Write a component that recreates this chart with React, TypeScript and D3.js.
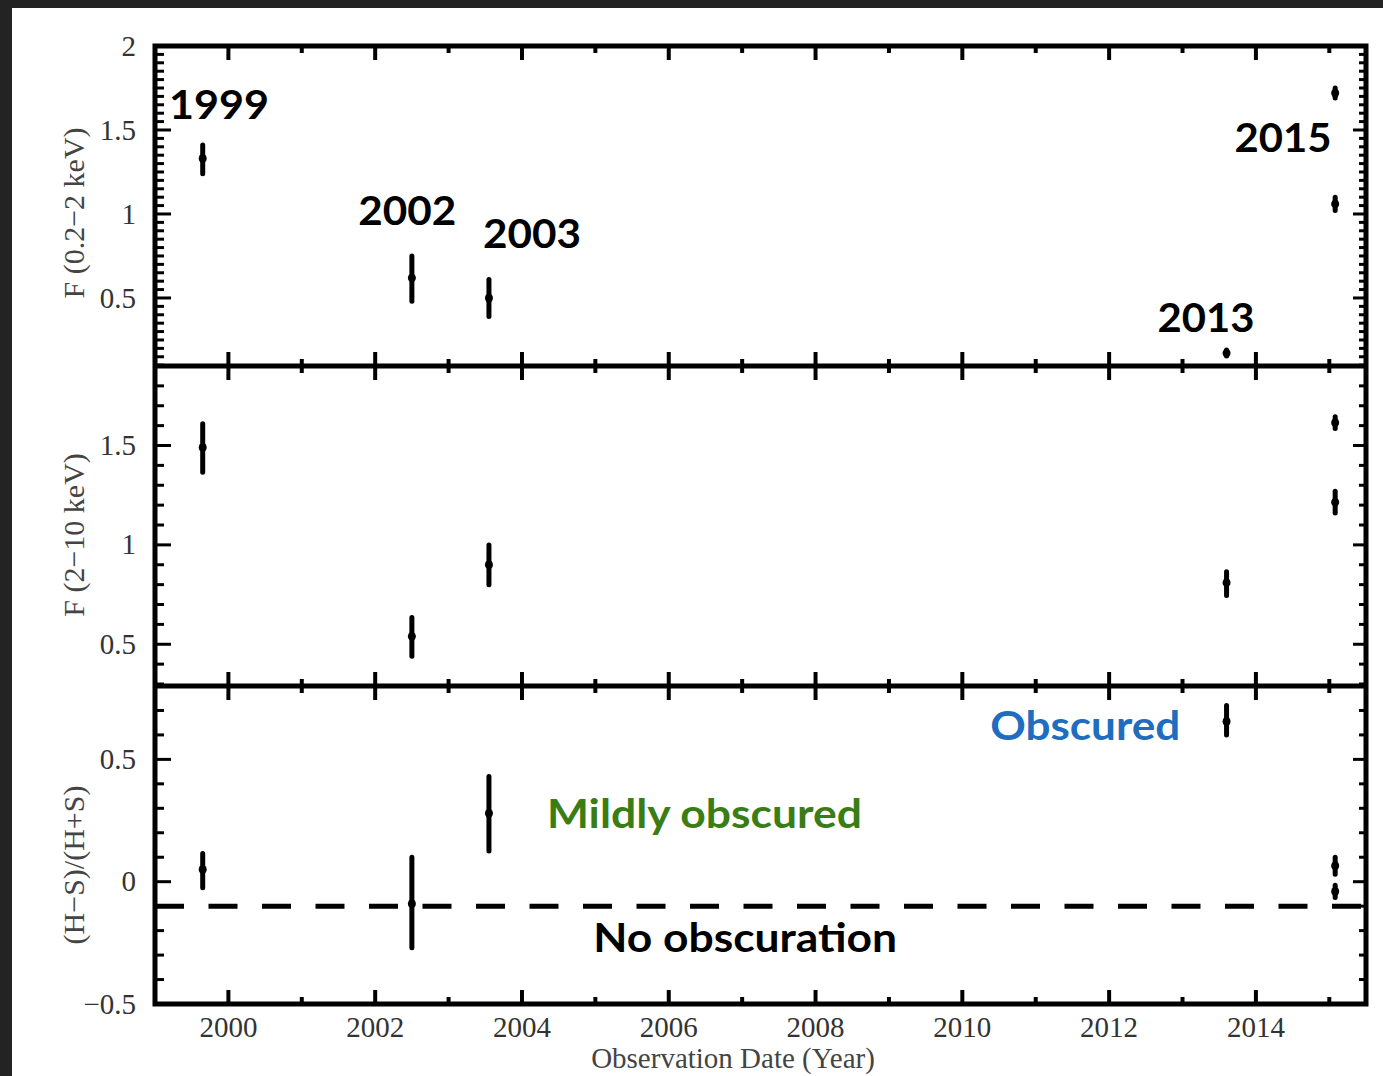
import React from "react";
import * as d3 from "d3";

// ---- data ----
const obsYears = [1999.65, 2002.5, 2003.55, 2013.6, 2015.08, 2015.08];

const softFlux = [1.33, 0.62, 0.5, 0.172, 1.72, 1.06];
const softLo = [1.24, 0.48, 0.39, 0.155, 1.69, 1.02];
const softHi = [1.41, 0.75, 0.61, 0.19, 1.75, 1.1];

const hardFlux = [1.49, 0.54, 0.9, 0.81, 1.615, 1.215];
const hardLo = [1.365, 0.44, 0.8, 0.745, 1.585, 1.16];
const hardHi = [1.61, 0.635, 1.0, 0.865, 1.645, 1.27];

const hrValue = [0.05, -0.09, 0.28, 0.655, 0.065, -0.04];
const hrLo = [-0.025, -0.27, 0.125, 0.6, 0.03, -0.065];
const hrHi = [0.115, 0.1, 0.43, 0.72, 0.1, -0.015];

const noObscurationLevel = -0.1;

const xMajorTicks = [2000, 2002, 2004, 2006, 2008, 2010, 2012, 2014];
const xMinorTicks = [2001, 2003, 2005, 2007, 2009, 2011, 2013, 2015];

const p1Labels = [2, 1.5, 1, 0.5];
const p2Labels = [1.5, 1, 0.5];
const p3Labels = [0.5, 0, -0.5];

const yTitles = ["F (0.2\u22122 keV)", "F (2\u221210 keV)", "(H\u2212S)/(H+S)"];
const xTitle = "Observation Date (Year)";

// annotations
const annoText = ["1999", "2002", "2003", "2013", "2015", "Obscured", "Mildly obscured", "No obscuration"];
const annoYear = [1999.19, 2001.77, 2003.47, 2012.66, 2013.71, 2010.38, 2004.34, 2004.97];
const annoValue = [1.565, 0.935, 0.798, 0.298, 1.369, 0.579, 0.219, -0.287];
const annoPanel = [0, 0, 0, 0, 0, 2, 2, 2];
const annoColor = ["#000", "#000", "#000", "#000", "#000", "#1f6dc0", "#3a7d14", "#000"];
const annoWidth = [100, 98, 98, 97, 97, 190, 315, 304];

// ---- layout ----
const W = 1383;
const H = 1076;
const left = 155;
const right = 1366;
const top = 46;
const sep1 = 366;
const sep2 = 686;
const bottom = 1004;

const x = d3.scaleLinear().domain([1999, 2015.5]).range([left, right]);
const y1 = d3.scaleLinear().domain([0.095, 2]).range([sep1, top]);
const y2 = d3.scaleLinear().domain([0.29, 1.9]).range([sep2, sep1]);
const y3 = d3.scaleLinear().domain([-0.5, 0.8]).range([bottom, sep2]);

const panels = [
  { y: y1, v: softFlux, lo: softLo, hi: softHi, labels: p1Labels, minorStep: 0.05, t: top, b: sep1, title: yTitles[0], ty: 213 },
  { y: y2, v: hardFlux, lo: hardLo, hi: hardHi, labels: p2Labels, minorStep: 0.1, t: sep1, b: sep2, title: yTitles[1], ty: 535 },
  { y: y3, v: hrValue, lo: hrLo, hi: hrHi, labels: p3Labels, minorStep: 0.1, t: sep2, b: bottom, title: yTitles[2], ty: 865 },
];

const fmt = (v: number) => (v < 0 ? "\u2212" + Math.abs(v) : String(v));

export default function App() {
  const serif = "'Liberation Serif', 'DejaVu Serif', serif";
  const sans = "Lato, 'Noto Sans', sans-serif";
  const tickColor = "#000";
  return (
    <svg width={W} height={H} style={{ position: "absolute", left: 0, top: 0, display: "block" }}>
      <rect x={0} y={0} width={W} height={H} fill="#232323" />
      <rect x={12} y={8} width={W - 12} height={H - 8} fill="#fff" />

      {panels.map((p, pi) => {
        const [d0, d1] = p.y.domain();
        const start = Math.ceil(d0 / p.minorStep - 1e-6) * p.minorStep;
        const minor = d3.range(start, d1 + 1e-9, p.minorStep).map((v) => +v.toFixed(3));
        const isMajor = (v: number) => Math.abs(v / 0.5 - Math.round(v / 0.5)) < 1e-6;
        return (
          <g key={pi}>
            {minor.map((v) => {
              const yy = p.y(v);
              const len = isMajor(v) ? 16 : 9;
              return (
                <g key={v}>
                  <line x1={left} x2={left + len} y1={yy} y2={yy} stroke={tickColor} strokeWidth={3} />
                  <line x1={right} x2={right - (isMajor(v) ? 13 : 7)} y1={yy} y2={yy} stroke={tickColor} strokeWidth={3} />
                </g>
              );
            })}
            {p.labels.map((v) => (
              <text
                key={v}
                x={136}
                y={p.y(v)}
                dy="0.33em"
                textAnchor="end"
                fontFamily={serif}
                fontSize={29}
                fill="#333"
              >
                {fmt(v)}
              </text>
            ))}
            <text
              transform={`translate(84, ${p.ty}) rotate(-90)`}
              textAnchor="middle"
              fontFamily={serif}
              fontSize={30}
              fill="#444"
            >
              {p.title}
            </text>
            {xMajorTicks.map((t) => (
              <g key={"M" + t}>
                <line x1={x(t)} x2={x(t)} y1={p.t} y2={p.t + 14} stroke={tickColor} strokeWidth={4} />
                <line x1={x(t)} x2={x(t)} y1={p.b} y2={p.b - 14} stroke={tickColor} strokeWidth={4} />
              </g>
            ))}
            {xMinorTicks.map((t) => (
              <g key={"m" + t}>
                <line x1={x(t)} x2={x(t)} y1={p.t} y2={p.t + 7} stroke={tickColor} strokeWidth={4} />
                <line x1={x(t)} x2={x(t)} y1={p.b} y2={p.b - 7} stroke={tickColor} strokeWidth={4} />
              </g>
            ))}
            {obsYears.map((yr, i) => (
              <g key={i}>
                <line
                  x1={x(yr)}
                  x2={x(yr)}
                  y1={p.y(p.lo[i])}
                  y2={p.y(p.hi[i])}
                  stroke="#000"
                  strokeWidth={5}
                  strokeLinecap="round"
                />
                <ellipse cx={x(yr)} cy={p.y(p.v[i])} rx={4} ry={4.5} fill="#000" />
              </g>
            ))}
          </g>
        );
      })}

      <line
        x1={left}
        x2={right}
        y1={y3(noObscurationLevel)}
        y2={y3(noObscurationLevel)}
        stroke="#000"
        strokeWidth={5}
        strokeDasharray="29 24.5"
      />

      <rect x={left} y={top} width={right - left} height={bottom - top} fill="none" stroke="#000" strokeWidth={5} />
      <line x1={left} x2={right} y1={sep1} y2={sep1} stroke="#000" strokeWidth={5} />
      <line x1={left} x2={right} y1={sep2} y2={sep2} stroke="#000" strokeWidth={5} />

      {xMajorTicks.map((t) => (
        <text key={t} x={x(t)} y={1037} textAnchor="middle" fontFamily={serif} fontSize={29} fill="#333">
          {t}
        </text>
      ))}
      <text x={733} y={1068} textAnchor="middle" fontFamily={serif} fontSize={29} fill="#444">
        {xTitle}
      </text>

      {annoText.map((s, i) => {
        const ys = [y1, y2, y3][annoPanel[i]];
        return (
          <text
            key={s}
            x={x(annoYear[i])}
            y={ys(annoValue[i])}
            fontFamily={sans}
            fontWeight={700}
            fontSize={41}
            fill={annoColor[i]}
            textLength={annoWidth[i]}
            lengthAdjust="spacingAndGlyphs"
          >
            {s}
          </text>
        );
      })}
    </svg>
  );
}
